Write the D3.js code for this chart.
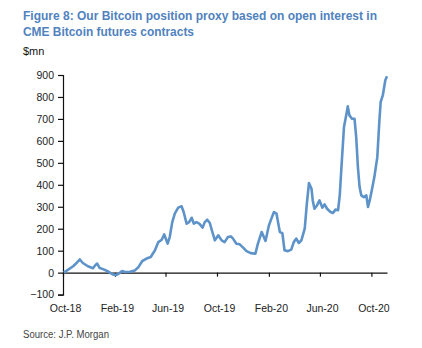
<!DOCTYPE html>
<html>
<head>
<meta charset="utf-8">
<script src="https://cdn.jsdelivr.net/npm/d3@7"></script>
<style>
  body { margin: 0; background: #fff; }
  svg { font-family: "Liberation Sans", Arial, sans-serif; display: block; }
</style>
</head>
<body>
<div id="chart"></div>
<script>
// weekly-ish readings of the proxy ($mn)
const dates = [
  "2018-10-03","2018-10-25","2018-10-30","2018-11-10","2018-11-17","2018-11-29","2018-12-11","2018-12-17","2018-12-21","2018-12-27",
  "2019-01-04","2019-01-16","2019-01-27","2019-02-04","2019-02-12","2019-02-18","2019-02-25","2019-03-09","2019-03-20","2019-03-28",
  "2019-04-07","2019-04-17","2019-04-27","2019-05-07","2019-05-15","2019-05-23","2019-05-29","2019-06-06","2019-06-11","2019-06-17",
  "2019-06-23","2019-07-01","2019-07-09","2019-07-14","2019-07-21","2019-07-27","2019-08-02","2019-08-07","2019-08-13","2019-08-20",
  "2019-08-28","2019-09-02","2019-09-08","2019-09-14","2019-09-20","2019-09-26","2019-10-04","2019-10-12","2019-10-19","2019-10-27",
  "2019-11-03","2019-11-08","2019-11-16","2019-11-24","2019-12-02","2019-12-10","2019-12-20","2019-12-31","2020-01-06","2020-01-15",
  "2020-01-24","2020-02-01","2020-02-07","2020-02-13","2020-02-19","2020-02-27","2020-03-04","2020-03-09","2020-03-17","2020-03-25",
  "2020-03-31","2020-04-06","2020-04-12","2020-04-18","2020-04-26","2020-05-01","2020-05-06","2020-05-12","2020-05-15","2020-05-19",
  "2020-05-25","2020-05-31","2020-06-07","2020-06-12","2020-06-18","2020-06-26","2020-07-02","2020-07-08","2020-07-14","2020-07-18",
  "2020-07-23","2020-07-28","2020-08-03","2020-08-06","2020-08-10","2020-08-16","2020-08-22","2020-08-26","2020-08-30","2020-09-03",
  "2020-09-07","2020-09-13","2020-09-19","2020-09-23","2020-09-27","2020-10-02","2020-10-08","2020-10-15","2020-10-20","2020-10-23",
  "2020-10-28","2020-11-03","2020-11-07"
];
const values = [
  0, 29, 38, 60, 44, 29, 20, 35, 41, 21,
  16, 5, -8, -11, -2, 7, 3, 4, 10, 23,
  53, 64, 71, 102, 139, 150, 174, 132, 162, 230,
  269, 296, 302, 276, 223, 230, 250, 223, 230, 223,
  205, 230, 241, 226, 185, 147, 170, 147, 139, 162,
  165, 155, 132, 129, 114, 98, 89, 86, 132, 185,
  144, 215, 246, 276, 269, 185, 180, 102, 98, 105,
  139, 155, 135, 147, 200, 314, 408, 382, 329, 291,
  306, 329, 296, 311, 291, 276, 272, 287, 284, 352,
  511, 663, 724, 757, 716, 701, 701, 617, 481, 390,
  352, 344, 352, 299, 329, 375, 435, 526, 694, 777,
  807, 876, 894
];
const xTicks = ["2018-10-01","2019-02-01","2019-06-01","2019-10-01","2020-02-01","2020-06-01","2020-10-01"];
const yTicks = [-100, 0, 100, 200, 300, 400, 500, 600, 700, 800, 900];

const W = 422, H = 348;
const margin = {top: 75, left: 63};
const width = 324, height = 219.6;
const parse = d3.timeParse("%Y-%m-%d");

const svg = d3.select("#chart").append("svg")
  .attr("width", W).attr("height", H);

// titles (the source picture is a bit squeezed sideways, so fit widths)
svg.append("text").attr("x", 23).attr("y", 19.5)
  .attr("textLength", 354).attr("lengthAdjust", "spacingAndGlyphs")
  .style("font-size", "13px").style("font-weight", "bold").style("fill", "#5082BE")
  .text("Figure 8: Our Bitcoin position proxy based on open interest in");
svg.append("text").attr("x", 23).attr("y", 36)
  .attr("textLength", 171).attr("lengthAdjust", "spacingAndGlyphs")
  .style("font-size", "13px").style("font-weight", "bold").style("fill", "#5082BE")
  .text("CME Bitcoin futures contracts");
svg.append("text").attr("x", 23).attr("y", 55)
  .style("font-size", "11px").style("fill", "#111")
  .text("$mn");
svg.append("text").attr("x", 23).attr("y", 338)
  .attr("textLength", 86).attr("lengthAdjust", "spacingAndGlyphs")
  .style("font-size", "10px").style("fill", "#444")
  .text("Source: J.P. Morgan");

const g = svg.append("g").attr("transform", `translate(${margin.left},${margin.top})`);

const x = d3.scaleTime()
  .domain([parse("2018-10-01"), parse("2020-11-07")])
  .range([0, width]);
const y = d3.scaleLinear()
  .domain([-100, 900])
  .range([height, 0]);

// y axis
const yAxis = g.append("g")
  .call(d3.axisLeft(y).tickValues(yTicks).tickSizeOuter(0).tickSize(5).tickPadding(4));
yAxis.selectAll("text").style("font-size", "10.5px").style("fill", "#222");
yAxis.selectAll("line, path").attr("stroke", "#111").attr("stroke-width", 1.2);

// x axis on the zero line, labels at the bottom
const xAxis = g.append("g")
  .attr("transform", `translate(0,${y(0)})`)
  .call(d3.axisBottom(x).tickValues(xTicks.map(parse))
    .tickFormat(d3.timeFormat("%b-%y")).tickSize(4).tickSizeOuter(0));
xAxis.selectAll("line, path").attr("stroke", "#111").attr("stroke-width", 1.2);
xAxis.selectAll("text")
  .attr("y", height - y(0) + 10)
  .attr("dx", 2)
  .style("font-size", "10.5px").style("fill", "#222");

// series line
const line = d3.line()
  .x((d, i) => x(parse(dates[i])))
  .y(d => y(d));
g.append("path")
  .datum(values)
  .attr("d", line)
  .attr("fill", "none")
  .attr("stroke", "#5E93C9")
  .attr("stroke-width", 2.6)
  .attr("stroke-linejoin", "round");
</script>
</body>
</html>
